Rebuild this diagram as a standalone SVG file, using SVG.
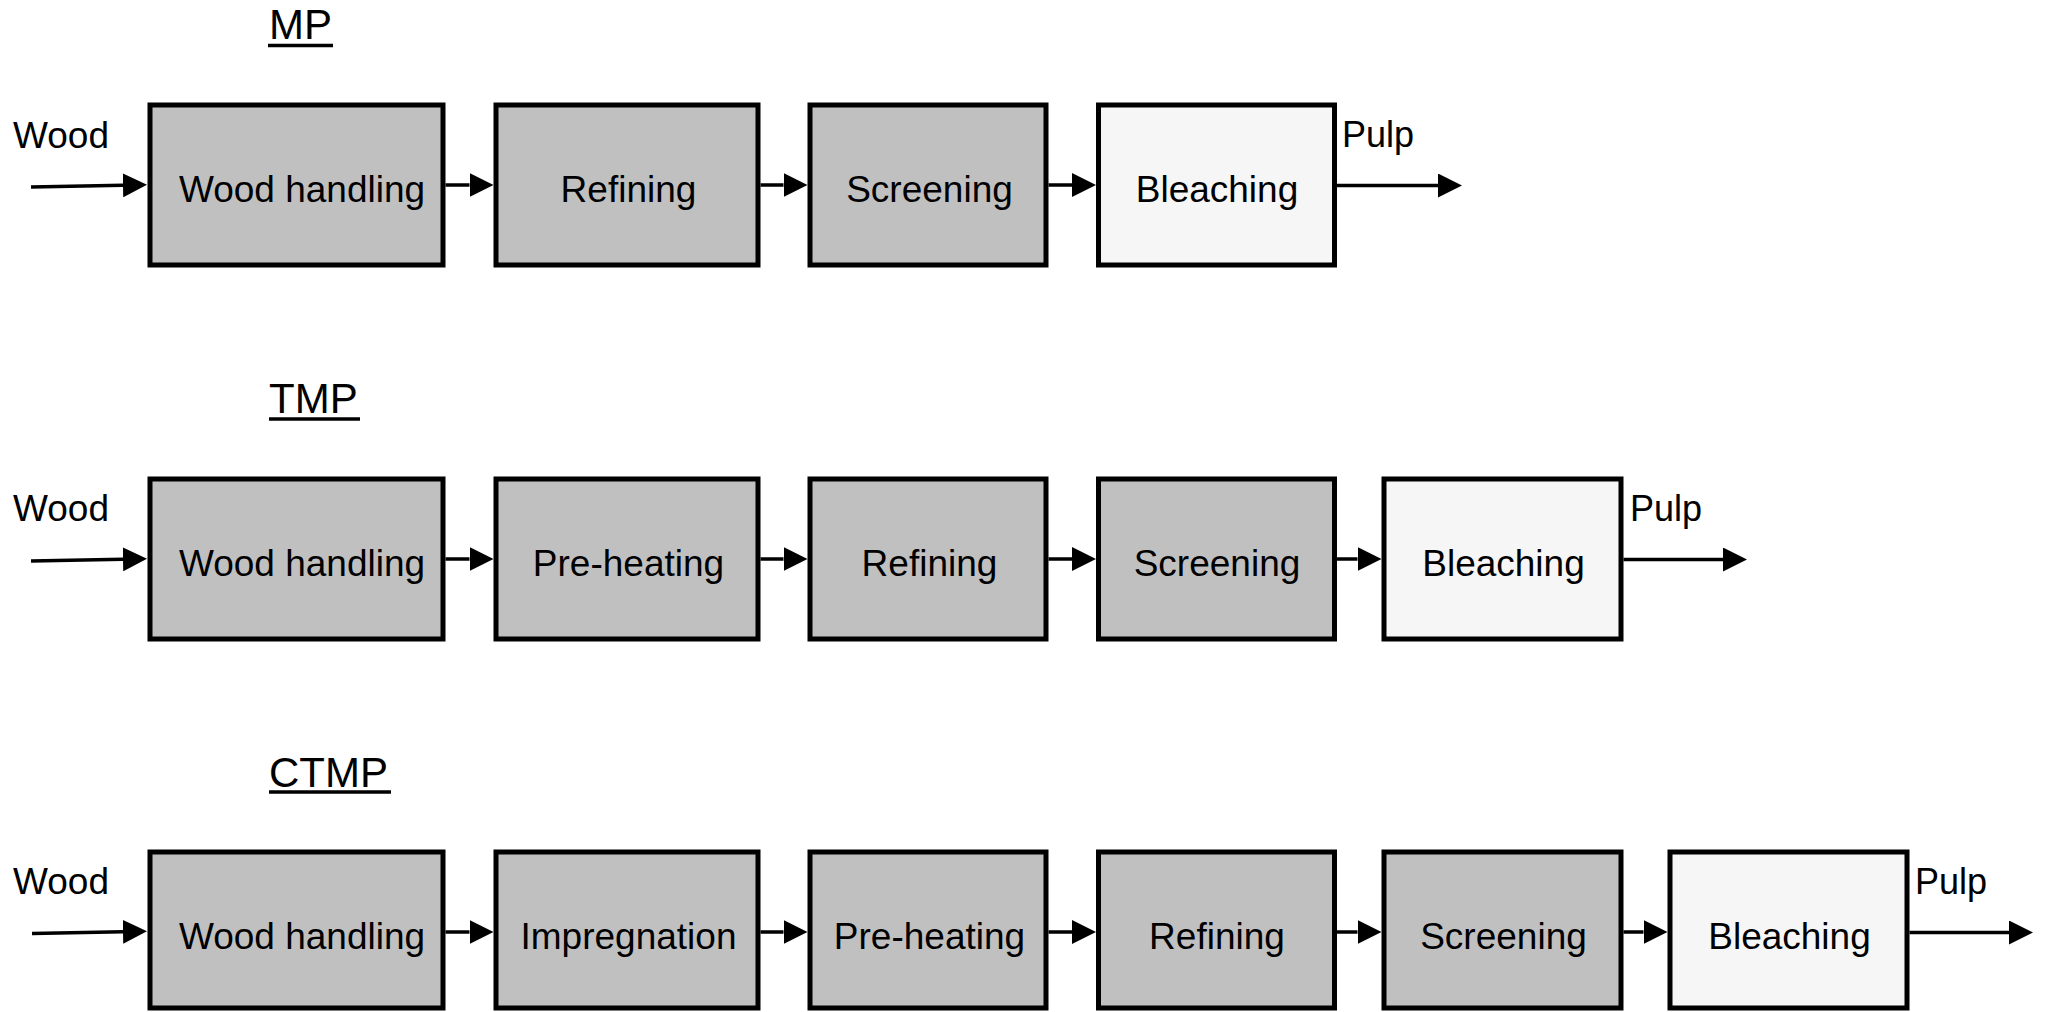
<svg xmlns="http://www.w3.org/2000/svg" width="2046" height="1012" viewBox="0 0 2046 1012">
  <style>
    .box { stroke: #000; stroke-width: 5; }
    .grey { fill: #c0c0c0; }
    .light { fill: #f6f6f6; }
    .label { font-family: "Liberation Sans", Arial, sans-serif; font-size: 37px; fill: #000; }
    .side { font-size: 36px; }
    .center { text-anchor: middle; }
    .title { font-family: "Liberation Sans", Arial, sans-serif; font-size: 42px; fill: #000; }
    .uline { stroke: #000; stroke-width: 3.5; }
    .flow { stroke: #000; stroke-width: 3.5; fill: none; marker-end: url(#head); }
  </style>
  <defs>
    <marker id="head" viewBox="0 0 24 24" refX="0" refY="12" markerWidth="24" markerHeight="24" markerUnits="userSpaceOnUse" orient="auto">
      <path d="M0,0 L24,12 L0,24 z" fill="#000"/>
    </marker>
  </defs>
  <rect width="2046" height="1012" fill="#fff"/>

  <!-- Process titles -->
  <g id="titles">
    <text class="title" x="269" y="39">MP</text>
    <line class="uline" x1="268" y1="45.5" x2="333" y2="45.5"/>
    <text class="title" x="269" y="413">TMP</text>
    <line class="uline" x1="269" y1="419" x2="360" y2="419"/>
    <text class="title" x="269" y="787">CTMP</text>
    <line class="uline" x1="269" y1="792" x2="391" y2="792"/>
  </g>

  <!-- Feed and product labels -->
  <g id="io-labels">
    <text class="label" x="13" y="148">Wood</text>
    <text class="label side" x="1342" y="147">Pulp</text>
    <text class="label" x="13" y="521">Wood</text>
    <text class="label side" x="1630" y="521">Pulp</text>
    <text class="label" x="13" y="894">Wood</text>
    <text class="label side" x="1915" y="894">Pulp</text>
  </g>

  <!-- MP line -->
  <g id="mp-wood-handling"><rect class="box grey" x="150" y="105" width="293" height="160"/><text class="label center" x="302" y="201.5">Wood handling</text></g>
  <g id="mp-refining"><rect class="box grey" x="496" y="105" width="262" height="160"/><text class="label center" x="628.5" y="201.5">Refining</text></g>
  <g id="mp-screening"><rect class="box grey" x="810" y="105" width="236" height="160"/><text class="label center" x="929.5" y="201.5">Screening</text></g>
  <g id="mp-bleaching"><rect class="box light" x="1098.5" y="105" width="236" height="160"/><text class="label center" x="1217" y="201.5">Bleaching</text></g>

  <!-- TMP line -->
  <g id="tmp-wood-handling"><rect class="box grey" x="150" y="479" width="293" height="160"/><text class="label center" x="302" y="575.5">Wood handling</text></g>
  <g id="tmp-pre-heating"><rect class="box grey" x="496" y="479" width="262" height="160"/><text class="label center" x="628.5" y="575.5">Pre-heating</text></g>
  <g id="tmp-refining"><rect class="box grey" x="810" y="479" width="236" height="160"/><text class="label center" x="929.5" y="575.5">Refining</text></g>
  <g id="tmp-screening"><rect class="box grey" x="1098.5" y="479" width="236" height="160"/><text class="label center" x="1217" y="575.5">Screening</text></g>
  <g id="tmp-bleaching"><rect class="box light" x="1384" y="479" width="237" height="160"/><text class="label center" x="1503.5" y="575.5">Bleaching</text></g>

  <!-- CTMP line -->
  <g id="ctmp-wood-handling"><rect class="box grey" x="150" y="852" width="293" height="156"/><text class="label center" x="302" y="948.5">Wood handling</text></g>
  <g id="ctmp-impregnation"><rect class="box grey" x="496" y="852" width="262" height="156"/><text class="label center" x="628.5" y="948.5">Impregnation</text></g>
  <g id="ctmp-pre-heating"><rect class="box grey" x="810" y="852" width="236" height="156"/><text class="label center" x="929.5" y="948.5">Pre-heating</text></g>
  <g id="ctmp-refining"><rect class="box grey" x="1098.5" y="852" width="236" height="156"/><text class="label center" x="1217" y="948.5">Refining</text></g>
  <g id="ctmp-screening"><rect class="box grey" x="1384" y="852" width="237" height="156"/><text class="label center" x="1503.5" y="948.5">Screening</text></g>
  <g id="ctmp-bleaching"><rect class="box light" x="1670" y="852" width="237" height="156"/><text class="label center" x="1789.5" y="948.5">Bleaching</text></g>

  <!-- Material flow -->
  <g id="connectors">
    <!-- MP -->
    <line class="flow" x1="31" y1="187" x2="123" y2="185.3"/>
    <line class="flow" x1="445.5" y1="185" x2="469.5" y2="185"/>
    <line class="flow" x1="760.5" y1="185" x2="783.5" y2="185"/>
    <line class="flow" x1="1048.5" y1="185" x2="1072" y2="185"/>
    <line class="flow" x1="1337" y1="185.5" x2="1438" y2="185.5"/>
    <!-- TMP -->
    <line class="flow" x1="31" y1="561" x2="123" y2="559.3"/>
    <line class="flow" x1="445.5" y1="559" x2="469.5" y2="559"/>
    <line class="flow" x1="760.5" y1="559" x2="783.5" y2="559"/>
    <line class="flow" x1="1048.5" y1="559" x2="1072" y2="559"/>
    <line class="flow" x1="1337" y1="559" x2="1357.5" y2="559"/>
    <line class="flow" x1="1623.5" y1="559.5" x2="1723" y2="559.5"/>
    <!-- CTMP -->
    <line class="flow" x1="32" y1="933.5" x2="123" y2="931.8"/>
    <line class="flow" x1="445.5" y1="932" x2="469.5" y2="932"/>
    <line class="flow" x1="760.5" y1="932" x2="783.5" y2="932"/>
    <line class="flow" x1="1048.5" y1="932" x2="1072" y2="932"/>
    <line class="flow" x1="1337" y1="932" x2="1357.5" y2="932"/>
    <line class="flow" x1="1623.5" y1="932" x2="1643.5" y2="932"/>
    <line class="flow" x1="1909.5" y1="932.5" x2="2009" y2="932.5"/>
  </g>
</svg>
